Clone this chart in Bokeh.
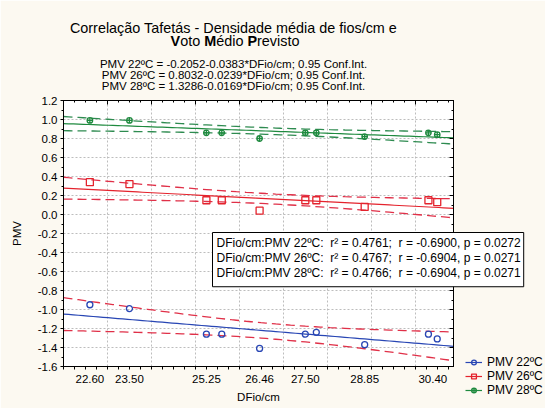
import numpy as np
from bokeh.plotting import figure
from bokeh.layouts import column
from bokeh.models import (FixedTicker, LinearAxis, Label, Legend, LegendItem,
                          Range1d, NumeralTickFormatter)
from bokeh.embed import file_html
from bokeh.resources import INLINE

# ---------------- data ----------------
dfio = [22.60, 23.50, 25.25, 25.60, 26.46, 27.50, 27.75, 28.85, 30.30, 30.50]
pmv22 = [-0.95, -0.99, -1.26, -1.26, -1.41, -1.26, -1.24, -1.37, -1.26, -1.31]
pmv26 = [0.34, 0.32, 0.15, 0.15, 0.04, 0.15, 0.15, 0.08, 0.15, 0.13]
pmv28 = [0.99, 0.99, 0.86, 0.86, 0.80, 0.86, 0.86, 0.82, 0.86, 0.84]

series_names = ["PMV 22ºC", "PMV 26ºC", "PMV 28ºC"]
intercepts = [-0.2052, 0.8032, 1.3286]
slopes = [-0.0383, -0.0239, -0.0169]
stats_r2 = ["0.4761", "0.4767", "0.4766"]
stats_r = ["-0.6900", "-0.6904", "-0.6904"]
stats_p = ["0.0272", "0.0271", "0.0271"]
x_tick_labels = [22.60, 23.50, 25.25, 26.46, 27.50, 28.85, 30.40]
y_ticks = [-1.6, -1.4, -1.2, -1.0, -0.8, -0.6, -0.4, -0.2, 0.0, 0.2, 0.4, 0.6, 0.8, 1.0, 1.2]
x_grid_ticks = [23, 24, 25, 26, 27, 28, 29, 30]
t_crit_95 = 2.306  # Student t, 0.975, df = 8

X0, X1 = 22.0, 30.87
Y0, Y1 = -1.6, 1.2

W, H = 545, 408
FONT = "Liberation Sans"
BG = "#FCF9F1"
blue = "#2846B4"
red = "#E4232D"
green = "#1F8A3F"
band_red = "#E03048"
band_green = "#2E8B50"

p = figure(width=W, height=H, output_backend="svg", toolbar_location=None,
           title=None, x_range=Range1d(X0, X1), y_range=Range1d(Y0, Y1),
           min_border_left=63, min_border_right=92, min_border_top=100,
           min_border_bottom=42)
p.frame_align = False
p.border_fill_color = BG
p.background_fill_color = "white"
p.outline_line_color = "black"
p.outline_line_width = 1

# ---------------- axes ----------------
minor_x = [X0 + 0.25 * i for i in range(int((X1 - X0) / 0.25) + 1)]
minor_y = [round(-1.6 + 0.1 * i, 2) for i in range(29)]

xa = p.xaxis[0]
xa.ticker = FixedTicker(ticks=x_tick_labels, minor_ticks=minor_x)
xa.formatter = NumeralTickFormatter(format="0.00")
xa.major_tick_line_color = None
xa.major_tick_out = 3
xa.major_tick_in = 0
xa.minor_tick_out = 3
xa.minor_tick_in = 0
xa.major_label_standoff = 5
xa.axis_label = "DFio/cm"
xa.axis_label_standoff = 5

ya = p.yaxis[0]
ya.ticker = FixedTicker(ticks=y_ticks, minor_ticks=minor_y)
ya.formatter = NumeralTickFormatter(format="0.0")
ya.major_tick_out = 3
ya.major_tick_in = 0
ya.minor_tick_out = 2
ya.minor_tick_in = 0
ya.major_label_standoff = 3
ya.axis_label = "PMV"
ya.axis_label_standoff = 12

for ax in (xa, ya):
    ax.axis_line_color = "black"
    ax.major_label_text_font = FONT
    ax.major_label_text_font_size = "11.5px"
    ax.major_label_text_color = "black"
    ax.axis_label_text_font = FONT
    ax.axis_label_text_font_size = "11.5px"
    ax.axis_label_text_font_style = "normal"
    ax.axis_label_text_color = "black"
    ax.minor_tick_line_color = "black"

ra = LinearAxis(ticker=FixedTicker(ticks=y_ticks, minor_ticks=minor_y),
                major_tick_in=4, major_tick_out=0, minor_tick_in=2, minor_tick_out=0,
                major_label_text_color=None, major_label_text_font_size="1px",
                major_label_standoff=0,
                axis_line_color="black", minor_tick_line_color="black")
p.add_layout(ra, "right")
ta = LinearAxis(ticker=FixedTicker(ticks=x_grid_ticks, minor_ticks=minor_x),
                major_tick_in=4, major_tick_out=0, minor_tick_in=2, minor_tick_out=0,
                major_label_text_color=None, major_label_text_font_size="1px",
                major_label_standoff=0,
                axis_line_color="black", minor_tick_line_color="black")
p.add_layout(ta, "above")

p.xgrid.ticker = FixedTicker(ticks=x_grid_ticks)
p.ygrid.ticker = FixedTicker(ticks=y_ticks)
for g in (p.xgrid[0], p.ygrid[0]):
    g.grid_line_color = "#BDBDBD"
    g.grid_line_dash = "2 2"
    g.grid_line_width = 1

# ---------------- regression lines, bands, points ----------------
xs = np.linspace(X0, X1, 80)
xd = np.array(dfio)
series = [pmv22, pmv26, pmv28]
line_colors = [blue, red, green]
band_colors = [band_red, band_red, band_green]
markers = ["circle", "square", "circle_cross"]
msizes = [6, 7, 5.5]
for ys, a, b, lc, bc, mk, ms in zip(series, intercepts, slopes, line_colors,
                                    band_colors, markers, msizes):
    yd = np.array(ys)
    n = len(xd)
    xbar = xd.mean()
    sxx = ((xd - xbar) ** 2).sum()
    resid = yd - (a + b * xd)
    s = np.sqrt((resid ** 2).sum() / (n - 2))
    fit = a + b * xs
    half = t_crit_95 * s * np.sqrt(1.0 / n + (xs - xbar) ** 2 / sxx)
    p.line(xs, fit + half, line_color=bc, line_width=1.3, line_dash="9 5")
    p.line(xs, fit - half, line_color=bc, line_width=1.3, line_dash="9 5")
    p.line(xs, fit, line_color=lc, line_width=1.2)
    p.scatter(dfio, ys, marker=mk, size=ms, fill_color=None,
              line_color=lc, line_width=1.3)

# ---------------- transparent text layer laid over the chart ----------------
# its frame is the whole canvas, with one unit per pixel (y grows downward)
q = figure(width=W, height=H, output_backend="svg", toolbar_location=None,
           title=None, x_range=Range1d(0, W), y_range=Range1d(H, 0),
           x_axis_type=None, y_axis_type=None, min_border=0)
q.frame_align = False
q.outline_line_color = None
q.background_fill_color = None
q.border_fill_color = None
q.styles = {"margin-top": f"-{H}px"}

# legend (outside the plot frame, bottom right): key glyphs only (NaN data)
items = []
for lc, mk, ms, name in zip(line_colors, markers, msizes, series_names):
    lr = q.line(np.array([np.nan]), np.array([np.nan]), line_color=lc, line_width=1.2)
    sr = q.scatter(np.array([np.nan]), np.array([np.nan]), marker=mk, size=ms,
                   fill_color=None, line_color=lc, line_width=1.3)
    items.append(LegendItem(label=name, renderers=[lr, sr]))
q.add_layout(Legend(items=items, location=(465, 11), orientation="vertical",
                    background_fill_alpha=0, border_line_color=None, padding=0,
                    spacing=0, margin=0, glyph_width=17, glyph_height=12,
                    label_standoff=5, label_height=12, label_text_font=FONT,
                    label_text_font_size="12px", label_text_color="black",
                    label_text_line_height=1.0))

CX = 233   # title centre (px)


def txt(x, y, text, **kw):
    q.add_layout(Label(x=x, y=y, text=text, text_font=FONT, text_color="black", **kw))


fs1 = 14.4
txt(CX, 27, "Correlação Tafetás - Densidade média de fios/cm e",
    text_font_size=f"{fs1}px", text_align="center", text_baseline="alphabetic")

# second title line: bold initials V, M, P (Arial/Liberation advance widths)
adv = {"V": 667, "o": 556, "t": 278, " ": 278, "M": 833, "é": 556, "d": 556,
       "i": 222, "P": 667, "r": 333, "e": 556, "v": 500, "s": 500}
segments = [("V", "bold"), ("oto ", "normal"), ("M", "bold"), ("édio ", "normal"),
            ("P", "bold"), ("revisto", "normal")]
total = sum(adv[c] for seg, _ in segments for c in seg) * fs1 / 1000.0
cur = CX + 1.5 - total / 2.0
for seg, style in segments:
    txt(cur, 40, seg.strip(), text_font_size=f"{fs1}px", text_font_style=style,
        text_align="left", text_baseline="alphabetic")
    cur += sum(adv[c] for c in seg) * fs1 / 1000.0

for i, (nm, a, b) in enumerate(zip(series_names, intercepts, slopes)):
    txt(CX, 63 + 11 * i, f"{nm} = {a:.4f}{b:.4f}*DFio/cm; 0.95 Conf.Int.",
        text_font_size="11.5px", text_align="center", text_baseline="alphabetic")

# statistics box (reaches past the frame's right edge, as in the reference)
NB = "\u00a0"
stat_lines = [f"DFio/cm:{nm}:{NB} r² = {r2};{NB} r = {r}, p = {pv}"
              for nm, r2, r, pv in zip(series_names, stats_r2, stats_r, stats_p)]
txt(212, 232, "\n".join(stat_lines), text_font_size="12px",
    text_align="left", text_baseline="top", text_line_height=1.08,
    background_fill_color="white", border_line_color="black",
    border_line_width=1, padding=(4, 3, 3, 7))

open("out.html", "w").write(file_html(column(p, q, spacing=0), INLINE))
